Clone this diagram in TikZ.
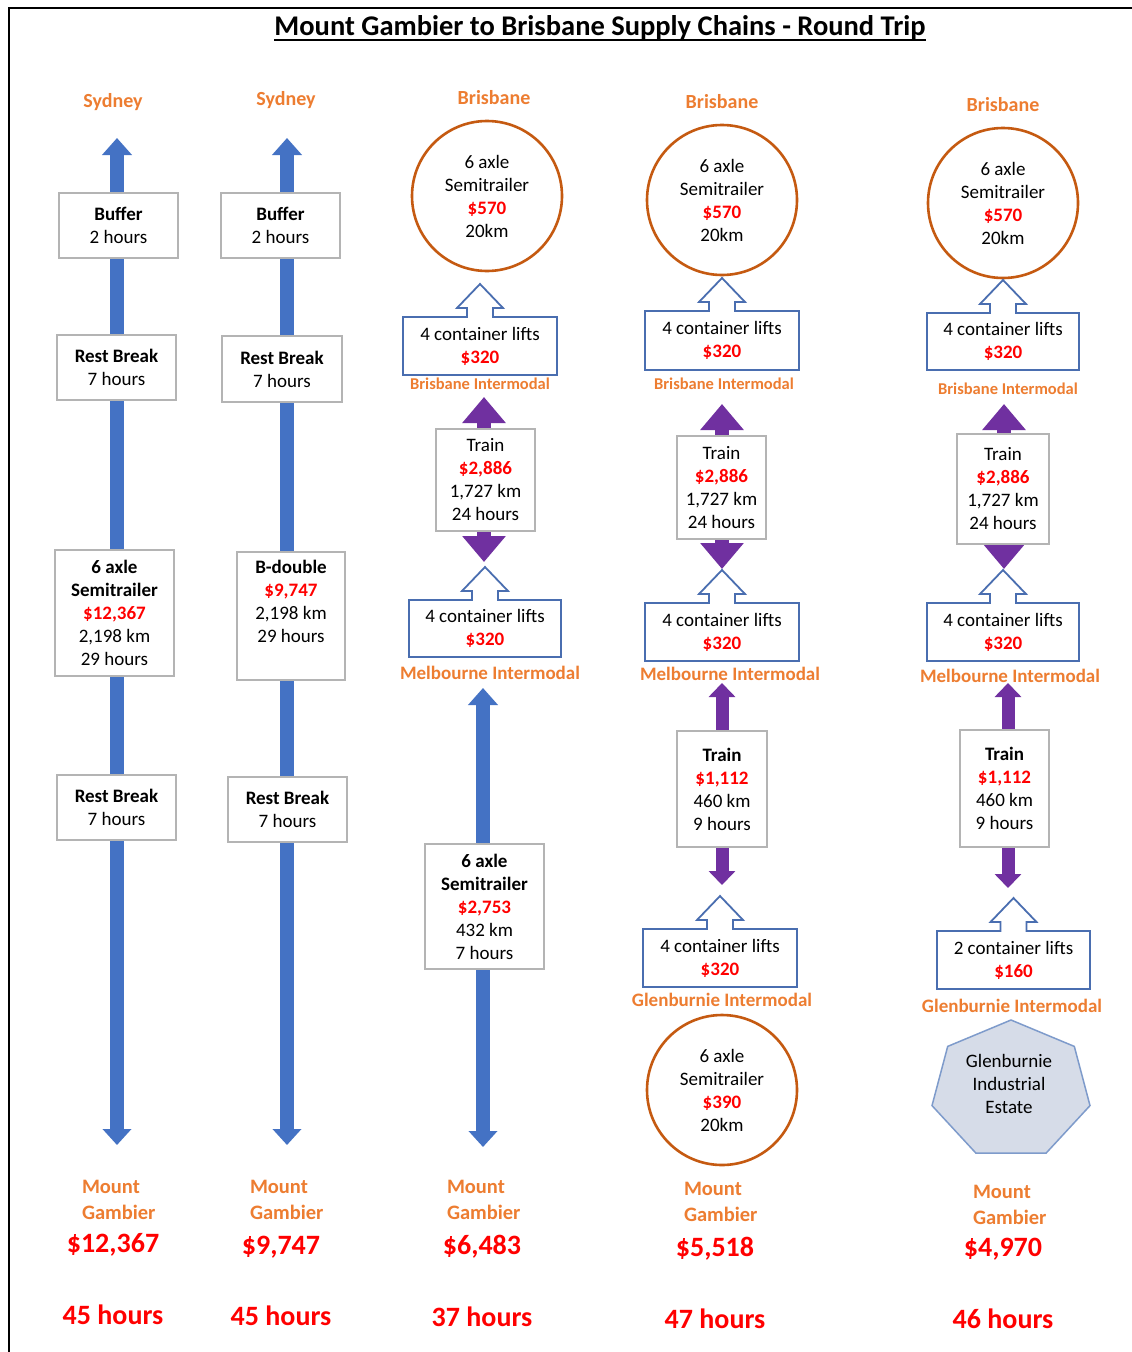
\documentclass[tikz,border=0pt]{standalone}
\usepackage{fontspec}
\setmainfont{Carlito}
\usetikzlibrary{arrows.meta,calc}
\definecolor{cblue}{HTML}{4472C4}
\definecolor{cpurple}{HTML}{7030A0}
\definecolor{corange}{HTML}{ED7D31}
\definecolor{cred}{HTML}{FF0000}
\definecolor{cring}{HTML}{C55A11}
\definecolor{cgray}{HTML}{B4B4B4}
\definecolor{cline}{HTML}{4A6EB0}
\definecolor{chept}{HTML}{D6DCE8}
\definecolor{cheptline}{HTML}{7E9BCB}
\newcommand\money[1]{\textcolor{cred}{\bfseries #1}}
% container-lift box with an outlined up arrow on top
\newcommand\liftbox[6]{%
  \node[cbox, minimum width=#4pt, minimum height=#5pt] (#1) at (#2,#3) {#6};
  \draw[lift] (#1.north west) -- ([xshift=-13pt]#1.north) -- ([xshift=-13pt,yshift=9pt]#1.north)
    -- ([xshift=-23pt,yshift=9pt]#1.north) -- ([yshift=33pt]#1.north)
    -- ([xshift=23pt,yshift=9pt]#1.north) -- ([xshift=13pt,yshift=9pt]#1.north)
    -- ([xshift=13pt]#1.north) -- (#1.north east) -- (#1.south east) -- (#1.south west) -- cycle;
}
\begin{document}
\begin{tikzpicture}[x=1pt,y=-1pt,
  every node/.style={inner sep=0pt, outer sep=0pt},
  boxtxt/.style={font=\fontsize{19}{23}\selectfont, align=center, text=black},
  gbox/.style={boxtxt, draw=cgray, line width=1.8pt, fill=white, rectangle},
  cbox/.style={boxtxt, rectangle, fill=white},
  ring/.style={boxtxt, circle, draw=cring, line width=2.6pt, fill=white, minimum size=150pt},
  city/.style={font=\fontsize{20}{24}\selectfont\bfseries, text=corange},
  hub/.style={font=\fontsize{19}{23}\selectfont\bfseries, text=corange},
  smallhub/.style={font=\fontsize{16.5}{19}\selectfont\bfseries, text=corange},
  town/.style={font=\fontsize{20.5}{26}\selectfont\bfseries, text=corange, align=left, anchor=west},
  total/.style={font=\fontsize{28}{32}\selectfont\bfseries, text=cred},
  bluearr/.style={draw=cblue, line width=14pt, {Triangle[width=29pt,length=17pt]}-{Triangle[width=28pt,length=16pt]}},
  purparr/.style={draw=cpurple, line width=14pt, {Triangle[width=42pt,length=26pt]}-{Triangle[width=42pt,length=26pt]}},
  purparrs/.style={draw=cpurple, line width=13pt, {Triangle[width=26pt,length=14pt]}-{Triangle[width=26pt,length=14pt]}},
  lift/.style={draw=cline, line width=1.8pt, line join=miter},
]
\useasboundingbox (0,0) rectangle (1132,1352);
\fill[white] (0,0) rectangle (1132,1352);
\draw[line width=2pt] (1132,8) -- (9,8) -- (9,1352);

% title
\node[font=\fontsize{28.5}{32}\selectfont\bfseries] (title) at (600,28) {Mount Gambier to Brisbane Supply Chains - Round Trip};
\draw[line width=1.7pt] ([yshift=-4pt]title.base west) -- ([yshift=-4pt]title.base east);

% destination labels
\node[city] (dest1) at (113,102) {Sydney};
\node[city] (dest2) at (286,100) {Sydney};
\node[city] (dest3) at (494,98) {Brisbane};
\node[city] (dest4) at (722,102) {Brisbane};
\node[city] (dest5) at (1003,105) {Brisbane};

% route arrows (drawn beneath the boxes)
\coordinate (r1t) at (117,138);  \coordinate (r1b) at (117,1145);
\coordinate (r2t) at (287,138);  \coordinate (r2b) at (287,1145);
\coordinate (r3t) at (483,688);  \coordinate (r3b) at (483,1147);
\coordinate (p3t) at (484,397);  \coordinate (p3b) at (484,562);
\coordinate (p4t) at (722,404);  \coordinate (p4b) at (722,569);
\coordinate (q4t) at (722,683);  \coordinate (q4b) at (722,885);
\coordinate (p5t) at (1004,404); \coordinate (p5b) at (1004,569);
\coordinate (q5t) at (1008,683); \coordinate (q5b) at (1008,888);
\draw[bluearr] (r1t) -- (r1b);
\draw[bluearr] (r2t) -- (r2b);
\draw[bluearr] (r3t) -- (r3b);
\draw[purparr] (p3t) -- (p3b);
\draw[purparr] (p4t) -- (p4b);
\draw[purparr] (p5t) -- (p5b);
\draw[purparrs] (q4t) -- (q4b);
\draw[purparrs] (q5t) -- (q5b);

% column 1: semitrailer by road to Sydney
\node[gbox, minimum width=119pt, minimum height=65pt] (buf1) at (118.5,225.5) {\bfseries Buffer\\2 hours};
\node[gbox, minimum width=119pt, minimum height=65pt] (rb1a) at (116.5,367.5) {\bfseries Rest Break\\7 hours};
\node[gbox, minimum width=119pt, minimum height=126pt] (semi1) at (114.5,613) {\bfseries 6 axle\\\bfseries Semitrailer\\\money{\$12,367}\\2,198 km\\29 hours};
\node[gbox, minimum width=119pt, minimum height=65pt] (rb1b) at (116.5,807.5) {\bfseries Rest Break\\7 hours};

% column 2: B-double by road to Sydney
\node[gbox, minimum width=119pt, minimum height=65pt] (buf2) at (280.5,225.5) {\bfseries Buffer\\2 hours};
\node[gbox, minimum width=120pt, minimum height=66pt] (rb2a) at (282,369) {\bfseries Rest Break\\7 hours};
\node[gbox, minimum width=108pt, minimum height=128pt] (bd2) at (291,616) {\bfseries B-double\\\money{\$9,747}\\2,198 km\\29 hours\\\strut};
\node[gbox, minimum width=119pt, minimum height=65pt] (rb2b) at (287.5,809.5) {\bfseries Rest Break\\7 hours};

% column 3: road to Melbourne, rail to Brisbane
\node[ring] (ring3) at (487,196) {6 axle\\Semitrailer\\\money{\$570}\\20km};
\liftbox{lift3a}{480}{346}{154}{58}{4 container lifts\\\money{\$320}}
\node[smallhub] (hub3a) at (480,384) {Brisbane Intermodal};
\node[gbox, minimum width=99pt, minimum height=102pt] (train3) at (485.5,480) {Train\\\money{\$2,886}\\1,727 km\\24 hours};
\liftbox{lift3b}{485}{628.5}{152}{57}{4 container lifts\\\money{\$320}}
\node[hub] (hub3b) at (490,673) {Melbourne Intermodal};
\node[gbox, minimum width=119pt, minimum height=125pt] (semi3) at (484.5,906.5) {\bfseries 6 axle\\\bfseries Semitrailer\\\money{\$2,753}\\432 km\\7 hours};

% column 4: rail from Glenburnie via Melbourne
\node[ring] (ring4) at (722,200) {6 axle\\Semitrailer\\\money{\$570}\\20km};
\liftbox{lift4a}{722}{340.5}{154}{59}{4 container lifts\\\money{\$320}}
\node[smallhub] (hub4a) at (724,384) {Brisbane Intermodal};
\node[gbox, minimum width=89pt, minimum height=103pt] (train4a) at (721.5,487.5) {Train\\\money{\$2,886}\\1,727 km\\24 hours};
\liftbox{lift4b}{722}{632}{154}{58}{4 container lifts\\\money{\$320}}
\node[hub] (hub4b) at (730,674) {Melbourne Intermodal};
\node[gbox, minimum width=90pt, minimum height=116pt] (train4b) at (722,789) {\bfseries Train\\\money{\$1,112}\\460 km\\9 hours};
\liftbox{lift4c}{720}{958}{154}{58}{4 container lifts\\\money{\$320}}
\node[hub] (hub4c) at (722,1000) {Glenburnie Intermodal};
\node[ring] (ring4b) at (722,1090) {6 axle\\Semitrailer\\\money{\$390}\\20km};

% column 5: rail to Glenburnie industrial estate
\node[ring] (ring5) at (1003,203) {6 axle\\Semitrailer\\\money{\$570}\\20km};
\liftbox{lift5a}{1003}{341.5}{152}{57}{4 container lifts\\\money{\$320}}
\node[smallhub] (hub5a) at (1008,389) {Brisbane Intermodal};
\node[gbox, minimum width=92pt, minimum height=110pt] (train5a) at (1003,489) {Train\\\money{\$2,886}\\1,727 km\\24 hours};
\liftbox{lift5b}{1003}{632}{152}{58}{4 container lifts\\\money{\$320}}
\node[hub] (hub5b) at (1010,676) {Melbourne Intermodal};
\node[gbox, minimum width=89pt, minimum height=117pt] (train5b) at (1004.5,788.5) {\bfseries Train\\\money{\$1,112}\\460 km\\9 hours};
\liftbox{lift5c}{1013.5}{960}{153}{58}{2 container lifts\\\money{\$160}}
\node[hub] (hub5c) at (1012,1006) {Glenburnie Intermodal};
\fill[chept] (1011,1020) -- (947.7,1046.4) -- (932,1105.6) -- (975.9,1153.1) -- (1046.1,1153.1) -- (1090,1105.6) -- (1074.3,1046.4) -- cycle;
\draw[cheptline, line width=1.5pt, line join=miter] (1011,1020) -- (947.7,1046.4) -- (932,1105.6) -- (975.9,1153.1) -- (1046.1,1153.1) -- (1090,1105.6) -- (1074.3,1046.4) -- cycle;
\node[boxtxt] (estate) at (1009,1084) {Glenburnie\\Industrial\\Estate};

% origin and totals
\node[town] (orig1) at (82,1200) {Mount\\Gambier};
\node[town] (orig2) at (250,1200) {Mount\\Gambier};
\node[town] (orig3) at (447,1200) {Mount\\Gambier};
\node[town] (orig4) at (684,1202) {Mount\\Gambier};
\node[town] (orig5) at (973,1205) {Mount\\Gambier};
\node[total] (cost1) at (113,1245) {\$12,367};
\node[total] (cost2) at (281,1247) {\$9,747};
\node[total] (cost3) at (482,1247) {\$6,483};
\node[total] (cost4) at (715,1249) {\$5,518};
\node[total] (cost5) at (1003,1249) {\$4,970};
\node[total] (time1) at (113,1315) {45 hours};
\node[total] (time2) at (281,1316) {45 hours};
\node[total] (time3) at (482,1317) {37 hours};
\node[total] (time4) at (715,1319) {47 hours};
\node[total] (time5) at (1003,1319) {46 hours};
\end{tikzpicture}
\end{document}
